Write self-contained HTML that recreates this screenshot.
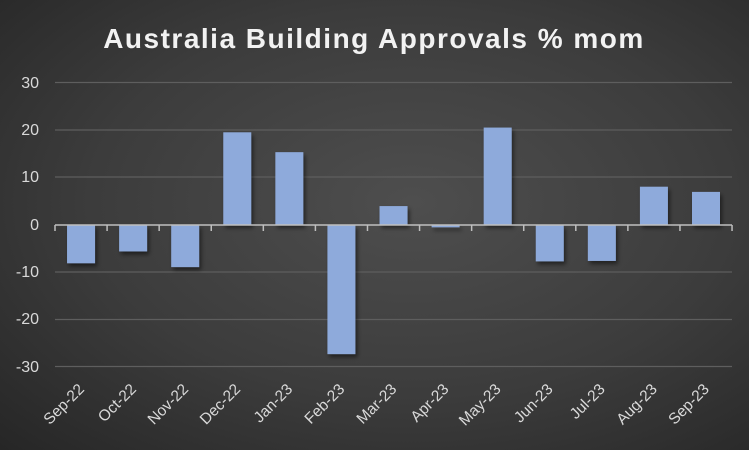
<!DOCTYPE html>
<html><head><style>
html,body{margin:0;padding:0}
body{width:749px;height:450px;overflow:hidden;background:radial-gradient(ellipse at 55% 45%,#4e4e4e 0%,#3c3c3c 55%,#262626 100%);font-family:"Liberation Sans",sans-serif}
</style></head><body>
<svg width="749" height="450" xmlns="http://www.w3.org/2000/svg" style="position:absolute;left:0;top:0">
<defs><filter id="s" x="-20%" y="-20%" width="150%" height="150%"><feDropShadow dx="2" dy="3" stdDeviation="2" flood-color="#000" flood-opacity="0.5"/></filter></defs>
<text x="374" y="48" text-anchor="middle" fill="#f2f2f2" font-size="28" font-weight="bold" letter-spacing="1.5">Australia Building Approvals % mom</text>
<g stroke="#5e5e5e" stroke-width="1.3">
<line x1="55" x2="732" y1="82.5" y2="82.5"/><line x1="55" x2="732" y1="130" y2="130"/><line x1="55" x2="732" y1="177" y2="177"/>
<line x1="55" x2="732" y1="272" y2="272"/><line x1="55" x2="732" y1="319.5" y2="319.5"/><line x1="55" x2="732" y1="366.5" y2="366.5"/>
</g>
<g fill="#d9d9d9" font-size="16" text-anchor="end">
<text x="39" y="88">30</text><text x="39" y="135">20</text><text x="39" y="182">10</text><text x="39" y="230">0</text>
<text x="39" y="277">-10</text><text x="39" y="324">-20</text><text x="39" y="372">-30</text>
</g>
<g id="bars" fill="#8eaadb" filter="url(#s)"></g>
<line x1="55" x2="732" y1="225" y2="225" stroke="#bfbfbf" stroke-width="1.5"/>
<g id="ticks" stroke="#bfbfbf" stroke-width="1.5"></g>
<g id="labels" fill="#d9d9d9" font-size="15.5"></g>
</svg>
<script>
var v=[-8.1,-5.6,-8.9,19.6,15.4,-27.3,4.0,-0.5,20.6,-7.7,-7.6,8.1,7.0];
var n=["Sep-22","Oct-22","Nov-22","Dec-22","Jan-23","Feb-23","Mar-23","Apr-23","May-23","Jun-23","Jul-23","Aug-23","Sep-23"];
var ns="http://www.w3.org/2000/svg",sp=52.08,x0=55,z=225,k=4.73;
var b=document.getElementById("bars"),t=document.getElementById("ticks"),l=document.getElementById("labels");
for(var i=0;i<=13;i++){var tk=document.createElementNS(ns,"line");var tx=x0+i*sp;tk.setAttribute("x1",tx);tk.setAttribute("x2",tx);tk.setAttribute("y1",225);tk.setAttribute("y2",231);t.appendChild(tk);}
for(var i=0;i<13;i++){var c=x0+sp*(i+0.5);var h=v[i]*k;var r=document.createElementNS(ns,"rect");
r.setAttribute("x",c-14);r.setAttribute("width",28);r.setAttribute("y",h>0?z-h:z);r.setAttribute("height",Math.abs(h));b.appendChild(r);
var tx=document.createElementNS(ns,"text");tx.setAttribute("text-anchor","end");tx.setAttribute("transform","translate("+(c+4)+",390) rotate(-45)");tx.textContent=n[i];l.appendChild(tx);}
</script>
</body></html>
